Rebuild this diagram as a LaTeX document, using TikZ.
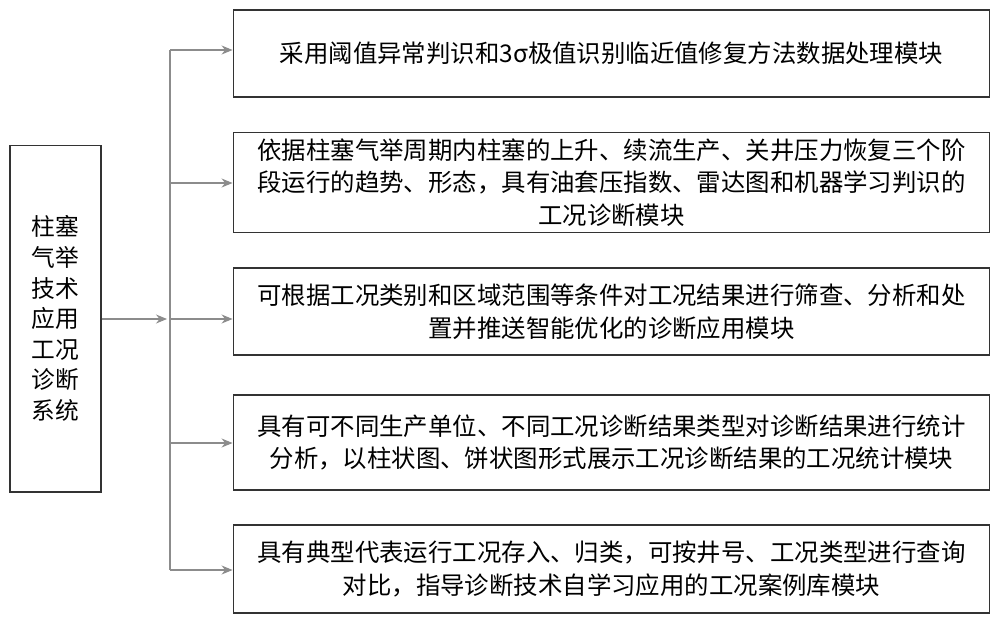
\documentclass[tikz,border=0pt]{standalone}
\usepackage{fontspec}
\setmainfont{Noto Sans CJK SC}
\usetikzlibrary{arrows.meta,positioning}

\tikzset{
  modbox/.style={draw=black!80, line width=0.6pt, minimum width=15.14cm, align=center,
    font=\fontsize{13.9}{18.6}\selectfont},
  sysbox/.style={draw=black!80, line width=0.6pt, minimum width=1.82cm, minimum height=6.94cm,
    align=center, font=\fontsize{13.5}{17.4}\selectfont},
  link/.style={draw=black!45, line width=0.6pt},
  arr/.style={link, -{Stealth[length=2.2mm,width=1.8mm]}}
}

\begin{document}
\begin{tikzpicture}[x=0.02cm, y=-0.02cm]

  \useasboundingbox (0,0) rectangle (1000,623);

  \node [sysbox] (sys) at (55.5,318.5) {柱塞\\气举\\技术\\应用\\工况\\诊断\\系统};

  \node [modbox, minimum height=1.74cm] (m1) at (611.5,53.5)
    {采用阈值异常判识和3σ极值识别临近值修复方法数据处理模块};
  \node [modbox, minimum height=1.82cm] (m2) at (611.5,182.5)
    {依据柱塞气举周期内柱塞的上升、续流生产、关井压力恢复三个阶\\段运行的趋势、形态，具有油套压指数、雷达图和机器学习判识的\\工况诊断模块};
  \node [modbox, minimum height=1.74cm] (m3) at (611.5,311.5)
    {可根据工况类别和区域范围等条件对工况结果进行筛查、分析和处\\置并推送智能优化的诊断应用模块};
  \node [modbox, minimum height=1.9cm] (m4) at (611.5,442.5)
    {具有可不同生产单位、不同工况诊断结果类型对诊断结果进行统计\\分析，以柱状图、饼状图形式展示工况诊断结果的工况统计模块};
  \node [modbox, minimum height=1.76cm] (m5) at (611.5,569)
    {具有典型代表运行工况存入、归类，可按井号、工况类型进行查询\\对比，指导诊断技术自学习应用的工况案例库模块};

  \coordinate (top) at (170,50);
  \coordinate (bot) at (170,570);
  \coordinate (mid) at (167,319);

  \path [arr] (sys.east |- mid) -- (mid);
  \path [link] (top) -- (bot);

  \foreach \m/\y in {m1/50, m2/183, m3/319, m4/443, m5/570}
    \path [arr] (170,\y) -- (\m.west |- 0,\y);

\end{tikzpicture}
\end{document}
